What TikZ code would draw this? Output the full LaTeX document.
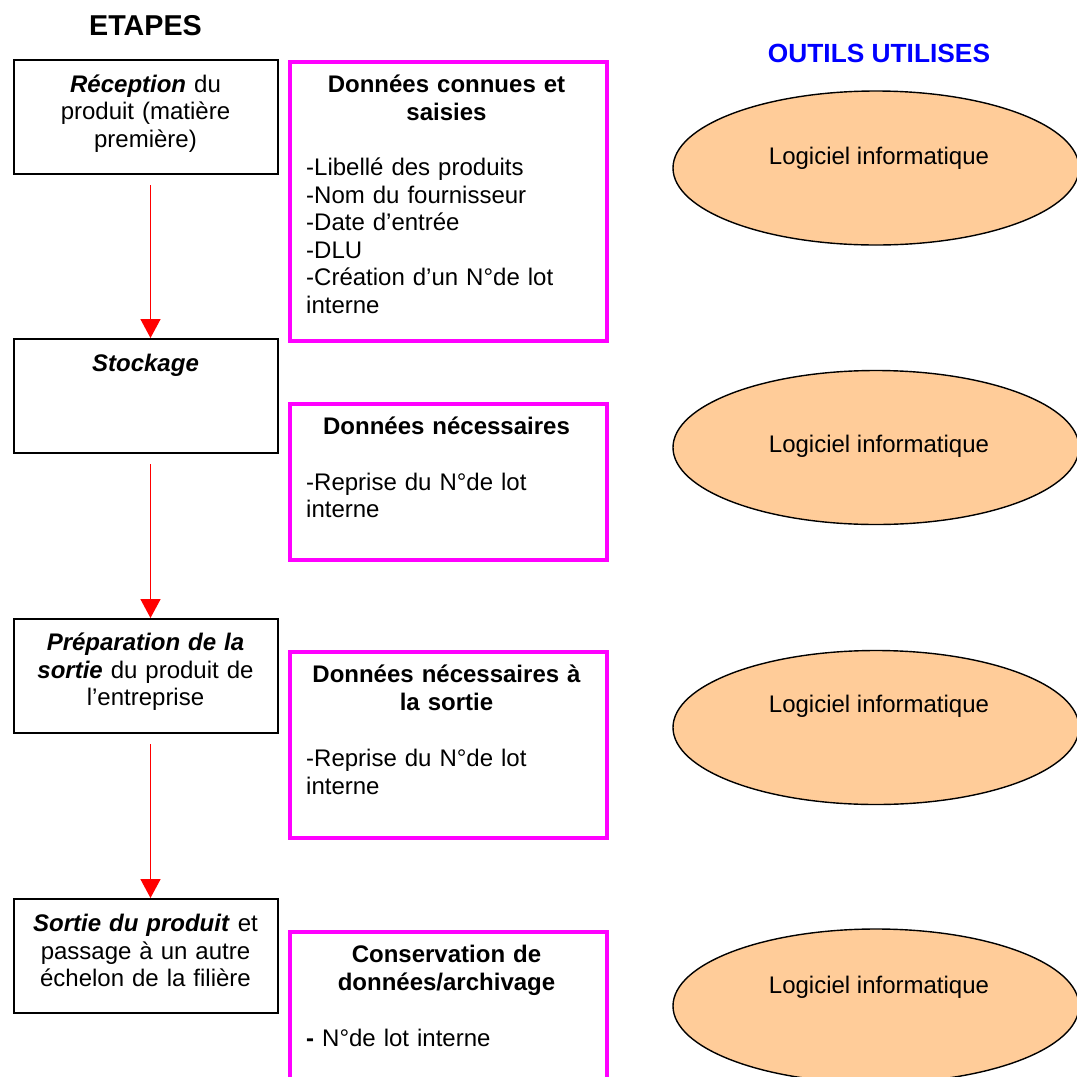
\documentclass[tikz,border=0pt]{standalone}
\usepackage{fontspec}
\setmainfont{Liberation Sans}
\usetikzlibrary{arrows.meta,shapes.geometric}

\definecolor{flowred}{RGB}{255,0,0}
\definecolor{datapink}{RGB}{255,0,255}
\definecolor{toolfill}{RGB}{255,204,153}
\definecolor{headblue}{RGB}{0,0,255}

% fixes the height of the first line so that text blocks start at a known baseline
\newcommand{\firstline}{\noindent\rule{0pt}{22pt}}

\begin{document}
\begin{tikzpicture}[x=1pt,y=-1pt,
  stepbox/.style={draw=black,line width=2pt,minimum width=264pt,minimum height=114pt,
                  anchor=north west,inner sep=0pt},
  databox/.style={draw=datapink,line width=4.2pt,minimum width=317pt,
                  anchor=north west,inner sep=0pt},
  tool/.style={ellipse,draw=black,line width=1.4pt,fill=toolfill,
               minimum width=406pt,minimum height=154pt,inner sep=0pt},
  body/.style={font=\fontsize{24}{27.5}\selectfont,inner sep=0pt},
  steptext/.style={body,anchor=north,align=center,text width=260pt},
  titletext/.style={body,anchor=north,align=center,text width=312pt,
                    font=\fontsize{24}{27.5}\selectfont\bfseries},
  itemtext/.style={body,anchor=north west,align=left,text width=290pt},
  tooltext/.style={body,anchor=base},
  flow/.style={draw=flowred,line width=1.6pt,-{Triangle[width=20pt,length=19pt]}},
]
\useasboundingbox (0,0) rectangle (1077,1077);
\clip (0,0) rectangle (1077,1077);

% column headings
\node[anchor=base,inner sep=0pt,font=\fontsize{28.7}{32}\selectfont\bfseries]
  (etapes) at (145.5,35.3) {ETAPES};
\node[anchor=base,inner sep=0pt,text=headblue,font=\fontsize{26.3}{30}\selectfont\bfseries]
  (outils) at (879,62) {OUTILS UTILISES};

% steps
\node[stepbox] (s1) at (13,59)  {};
\node[stepbox] (s2) at (13,338) {};
\node[stepbox] (s3) at (13,618) {};
\node[stepbox] (s4) at (13,898) {};

\node[steptext] (s1t) at (145.5,70)
  {\firstline\textbf{\textit{Réception}} du\\produit (matière\\première)};
\node[steptext] (s2t) at (145.5,349.5)
  {\firstline\textbf{\textit{Stockage}}};
\node[steptext] (s3t) at (145.5,628.5)
  {\firstline\textbf{\textit{Préparation de la}}\\\textbf{\textit{sortie}} du produit de\\l’entreprise};
\node[steptext] (s4t) at (145.5,909.7)
  {\firstline\textbf{\textit{Sortie du produit}} et\\passage à un autre\\échelon de la filière};

% flow between the steps
\draw[flow] ([xshift=4.5pt,yshift=-10pt]s1.south) -- ([xshift=4.5pt]s2.north);
\draw[flow] ([xshift=4.5pt,yshift=-10pt]s2.south) -- ([xshift=4.5pt]s3.north);
\draw[flow] ([xshift=4.5pt,yshift=-10pt]s3.south) -- ([xshift=4.5pt]s4.north);

% data recorded at each step
\node[databox,minimum height=279pt] (d1) at (288,60)    {};
\node[databox,minimum height=156pt] (d2) at (288,401.5) {};
\node[databox,minimum height=186pt] (d3) at (288,650)   {};
\node[databox,minimum height=170pt] (d4) at (288,930)   {};

\node[titletext] (d1t) at (446.5,70.7) {\firstline Données connues et\\saisies};
\node[itemtext]  (d1i) at (306,153.7)
  {\firstline -Libellé des produits\\-Nom du fournisseur\\-Date d’entrée\\-DLU\\-Création d’un N°de lot\\interne};

\node[titletext] (d2t) at (446.5,412) {\firstline Données nécessaires};
\node[itemtext]  (d2i) at (306,468) {\firstline -Reprise du N°de lot\\interne};

\node[titletext] (d3t) at (446.5,660.7) {\firstline Données nécessaires à\\la sortie};
\node[itemtext]  (d3i) at (306,744.7) {\firstline -Reprise du N°de lot\\interne};

\node[titletext] (d4t) at (446.5,940.7) {\firstline Conservation de\\données/archivage};
\node[itemtext]  (d4i) at (306,1024) {\firstline\textbf{-} N°de lot interne};

% tools
\node[tool] (o1) at (876,168)    {};
\node[tool] (o2) at (876,447.5)  {};
\node[tool] (o3) at (876,727.5)  {};
\node[tool] (o4) at (876,1006)   {};

\node[tooltext] (o1t) at (879,164) {Logiciel informatique};
\node[tooltext] (o2t) at (879,452) {Logiciel informatique};
\node[tooltext] (o3t) at (879,712) {Logiciel informatique};
\node[tooltext] (o4t) at (879,993) {Logiciel informatique};
\end{tikzpicture}
\end{document}
